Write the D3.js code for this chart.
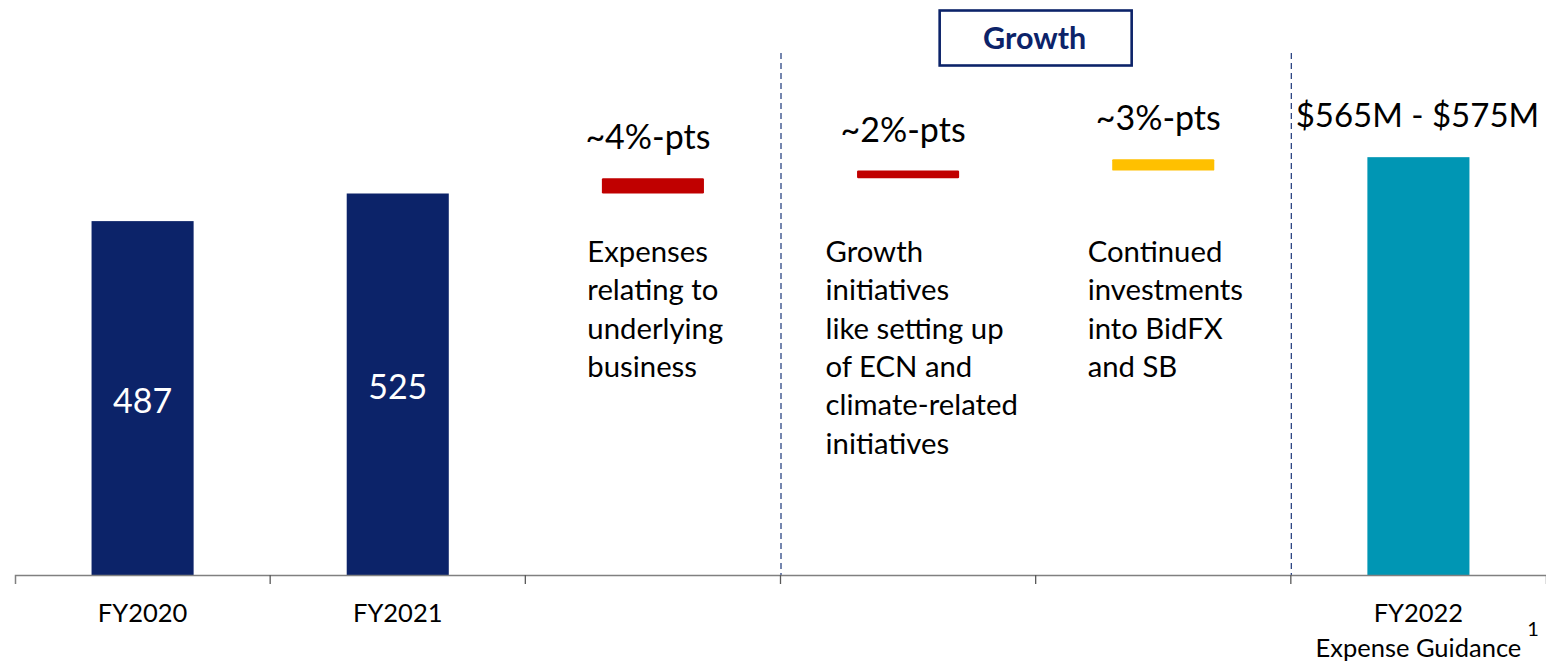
<!DOCTYPE html>
<html>
<head>
<meta charset="utf-8">
<script src="https://cdn.jsdelivr.net/npm/d3@7"></script>
<style>
  html, body { margin: 0; padding: 0; background: #ffffff; }
  svg { display: block; font-family: Lato, "Open Sans", sans-serif; }
</style>
</head>
<body>
<svg id="chart" width="1546" height="662"></svg>
<script>
// One band per step of the expense bridge
const categories = ["FY2020", "FY2021", "Underlying", "Initiatives", "BidFX", "FY2022"];
const axisLabels = [["FY2020"], ["FY2021"], [], [], [], ["FY2022", "Expense Guidance"]];

// Reported expenses, $M
const reportedYears = ["FY2020", "FY2021"];
const reportedValues = [487, 525];

// Expense growth drivers, percentage points on top of FY2021
const driverCategories = ["Underlying", "Initiatives", "BidFX"];
const driverPctPts = [4, 2, 3];
const driverLabels = ["~4%-pts", "~2%-pts", "~3%-pts"];
const driverNotes = [
  ["Expenses", "relating to", "underlying", "business"],
  ["Growth", "initiatives", "like setting up", "of ECN and", "climate-related", "initiatives"],
  ["Continued", "investments", "into BidFX", "and SB"]
];

// FY2022 expense guidance, $M
const guidanceRange = [565, 575];
const guidanceLabel = "$565M - $575M";

const NAVY = "#0c2369";
const TEAL = "#0096b4";
const driverColors = ["#c00000", "#c00000", "#ffc000"];

const svg = d3.select("#chart");

const x = d3.scaleBand().domain(categories).range([15, 1546]).padding(0);
const y = d3.scaleLinear().domain([0, 600]).range([575, 139]);
const barW = x.bandwidth() * 0.4;
const barX = c => x(c) + (x.bandwidth() - barW) / 2;
const mid = c => x(c) + x.bandwidth() / 2;

// Dashed separators around the growth section
const sepCats = ["Initiatives", "FY2022"];
svg.append("g").selectAll("line").data(sepCats).join("line")
  .attr("x1", d => x(d) + 0.5).attr("x2", d => x(d) + 0.5)
  .attr("y1", 53).attr("y2", y(0))
  .attr("stroke", "#2c4584").attr("stroke-width", 1.3)
  .attr("stroke-dasharray", "6,4");

// "Growth" header box
const gBox = svg.append("g");
const boxCx = x("BidFX");
gBox.append("rect")
  .attr("x", boxCx - 96).attr("y", 10.5).attr("width", 192).attr("height", 55)
  .attr("fill", "#fff").attr("stroke", NAVY).attr("stroke-width", 2.6);
gBox.append("text")
  .attr("x", boxCx - 1).attr("y", 49).attr("text-anchor", "middle")
  .attr("font-size", 30.5).attr("font-weight", 700).attr("fill", NAVY)
  .text("Growth");

// Reported years
const reported = reportedYears.map((c, i) => ({ c, v: reportedValues[i] }));
svg.append("g").selectAll("rect").data(reported).join("rect")
  .attr("x", d => barX(d.c)).attr("width", barW)
  .attr("y", d => y(d.v)).attr("height", d => y(0) - y(d.v))
  .attr("fill", NAVY);
svg.append("g").selectAll("text").data(reported).join("text")
  .attr("x", d => mid(d.c))
  .attr("y", d => (y(d.v) + y(0)) / 2 + 15)
  .attr("text-anchor", "middle").attr("font-size", 34).attr("fill", "#fff")
  .text(d => d.v);

// Floating waterfall steps
const base = reportedValues[reportedValues.length - 1];
let running = base;
const steps = driverCategories.map((c, i) => {
  const start = running;
  const end = start + base * driverPctPts[i] / 100;
  running = end;
  return { c, start, end, label: driverLabels[i], color: driverColors[i], notes: driverNotes[i] };
});
const stepG = svg.append("g");
stepG.selectAll("rect").data(steps).join("rect")
  .attr("x", d => barX(d.c)).attr("width", barW)
  .attr("y", d => y(d.end)).attr("height", d => y(d.start) - y(d.end))
  .attr("rx", 1.2)
  .attr("fill", d => d.color);
stepG.selectAll("text.pct").data(steps).join("text")
  .attr("class", "pct")
  .attr("x", d => mid(d.c) - 5).attr("y", d => y(d.end) - 29)
  .attr("text-anchor", "middle").attr("font-size", 34).attr("fill", "#000")
  .text(d => d.label);

// Notes under each driver
const noteX = { Underlying: 62, Initiatives: 45, BidFX: 52 };
stepG.selectAll("text.note").data(steps).join("text")
  .attr("class", "note")
  .attr("font-size", 29.3).attr("fill", "#000")
  .each(function (d) {
    d3.select(this).selectAll("tspan").data(d.notes).join("tspan")
      .attr("x", x(d.c) + noteX[d.c])
      .attr("y", (t, j) => 262 + j * 38.3)
      .text(t => t);
  });

// FY2022 guidance bar
svg.append("rect")
  .attr("x", barX("FY2022")).attr("width", barW)
  .attr("y", y(guidanceRange[1])).attr("height", y(0) - y(guidanceRange[1]))
  .attr("fill", TEAL);
svg.append("text")
  .attr("x", mid("FY2022") - 1).attr("y", y(guidanceRange[1]) - 30)
  .attr("text-anchor", "middle").attr("font-size", 33).attr("fill", "#000")
  .text(guidanceLabel);

// Category axis
const axisG = svg.append("g").attr("transform", `translate(0,${y(0)})`)
  .call(d3.axisBottom(x).tickSizeInner(0).tickSizeOuter(9).tickFormat(""));
axisG.select(".domain").attr("stroke", "#808080").attr("stroke-width", 1.5);
axisG.selectAll(".tick").remove();
axisG.selectAll("line.sep").data(categories.slice(1)).join("line")
  .attr("class", "sep")
  .attr("x1", d => x(d)).attr("x2", d => x(d))
  .attr("y1", 0).attr("y2", 9)
  .attr("stroke", "#595959").attr("stroke-width", 1.3);

const labelG = svg.append("g");
categories.forEach((c, i) => {
  axisLabels[i].forEach((t, j) => {
    labelG.append("text")
      .attr("x", mid(c)).attr("y", 622 + j * 35)
      .attr("text-anchor", "middle").attr("font-size", 25.5).attr("fill", "#000")
      .text(t);
  });
});
// Footnote marker on the guidance label
labelG.append("text")
  .attr("x", 1533).attr("y", 636)
  .attr("text-anchor", "middle").attr("font-size", 20).attr("fill", "#000")
  .text("1");
</script>
</body>
</html>
